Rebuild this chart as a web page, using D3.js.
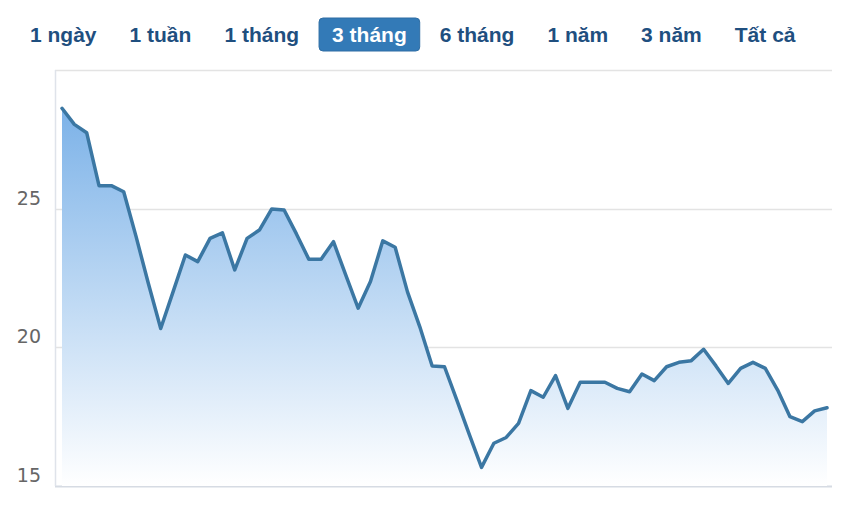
<!DOCTYPE html>
<html>
<head>
<meta charset="utf-8">
<script src="https://cdn.jsdelivr.net/npm/d3@7"></script>
<style>
  html, body { margin: 0; padding: 0; background: #ffffff; }
  svg { display: block; }
</style>
</head>
<body>
<svg id="chart" width="850" height="508"></svg>
<script>
// ---- data ----
const ranges = ["1 ngày", "1 tuần", "1 tháng", "3 tháng", "6 tháng", "1 năm", "3 năm", "Tất cả"];
const selectedRange = "3 tháng";
const sessions = d3.range(1, 64); // 63 trading sessions
const prices = [
  28.62, 28.04, 27.74, 25.83, 25.83, 25.61, 24.0, 22.3, 20.68, 22.0,
  23.33, 23.09, 23.93, 24.13, 22.79, 23.93, 24.23, 24.99, 24.95, 24.09,
  23.18, 23.18, 23.81, 22.6, 21.41, 22.37, 23.84, 23.61, 22.0, 20.74,
  19.33, 19.3, 18.1, 16.87, 15.67, 16.54, 16.75, 17.26, 18.44, 18.2,
  18.98, 17.8, 18.74, 18.74, 18.74, 18.52, 18.40, 19.04, 18.8, 19.3,
  19.46, 19.52, 19.93, 19.33, 18.7, 19.24, 19.46, 19.24, 18.46, 17.5,
  17.32, 17.71, 17.82
];
const yTicks = [15, 20, 25, 30];
const yTickLabels = ["15", "20", "25", ""];

// ---- layout ----
const svg = d3.select("#chart");
const plot = { left: 55, right: 832, top: 70, bottom: 486 };

const x = d3.scaleLinear()
  .domain([sessions[0], sessions[sessions.length - 1]])
  .range([62, 827]);
const y = d3.scaleLinear()
  .domain([15, 30])
  .range([plot.bottom, plot.top]);

const data = sessions.map((s, i) => ({ s, v: prices[i] }));

// ---- range selector buttons ----
const btnG = svg.append("g").attr("class", "buttons");
let cursor = 30;
const gap = 33;
ranges.forEach(label => {
  const g = btnG.append("g");
  const sel = label === selectedRange;
  const rect = g.append("rect");
  const t = g.append("text")
    .attr("x", cursor)
    .attr("y", 34)
    .attr("dominant-baseline", "central")
    .attr("font-family", "'Liberation Sans', Arial, sans-serif")
    .attr("font-size", 21)
    .attr("font-weight", "bold")
    .attr("fill", sel ? "#ffffff" : "#1f4f7f")
    .text(label);
  const w = t.node().getComputedTextLength();
  if (sel) {
    rect.attr("x", cursor - 13).attr("y", 18)
      .attr("width", w + 26).attr("height", 33)
      .attr("rx", 4).attr("ry", 4)
      .attr("fill", "#337ab7")
      .attr("stroke", "#2e6da4").attr("stroke-width", 1);
  } else {
    rect.remove();
  }
  cursor += w + gap;
});

// ---- gradient ----
const defs = svg.append("defs");
const grad = defs.append("linearGradient")
  .attr("id", "areaGrad")
  .attr("x1", 0).attr("y1", 0).attr("x2", 0).attr("y2", 1);
grad.append("stop").attr("offset", "0%").attr("stop-color", "#7cb2e8");
grad.append("stop").attr("offset", "100%").attr("stop-color", "#ffffff");

// ---- grid ----
const grid = svg.append("g");
grid.selectAll("line")
  .data(yTicks)
  .join("line")
  .attr("x1", plot.left).attr("x2", plot.right)
  .attr("y1", d => Math.round(y(d)) + 0.5)
  .attr("y2", d => Math.round(y(d)) + 0.5)
  .attr("stroke", d => d === 15 ? "#d6dbe3" : "#e3e3e3")
  .attr("stroke-width", d => d === 15 ? 2 : 1.5);

// left axis line
svg.append("line")
  .attr("x1", plot.left + 0.5).attr("x2", plot.left + 0.5)
  .attr("y1", plot.top).attr("y2", plot.bottom)
  .attr("stroke", "#dfe3ea").attr("stroke-width", 1.5);

// y labels
svg.append("g").selectAll("text")
  .data(yTicks)
  .join("text")
  .attr("x", 41)
  .attr("y", d => y(d) - 4)
  .attr("text-anchor", "end")
  .attr("font-family", "'DejaVu Sans', Verdana, sans-serif")
  .attr("font-size", 19)
  .attr("fill", "#666666")
  .text((d, i) => yTickLabels[i]);

// ---- area + line ----
const area = d3.area()
  .x(d => x(d.s))
  .y0(plot.bottom)
  .y1(d => y(d.v));
svg.append("path")
  .datum(data)
  .attr("d", area)
  .attr("fill", "url(#areaGrad)");

const line = d3.line()
  .x(d => x(d.s))
  .y(d => y(d.v));
svg.append("path")
  .datum(data)
  .attr("d", line)
  .attr("fill", "none")
  .attr("stroke", "#3b77a3")
  .attr("stroke-width", 3.5)
  .attr("stroke-linejoin", "round")
  .attr("stroke-linecap", "round");
</script>
</body>
</html>
